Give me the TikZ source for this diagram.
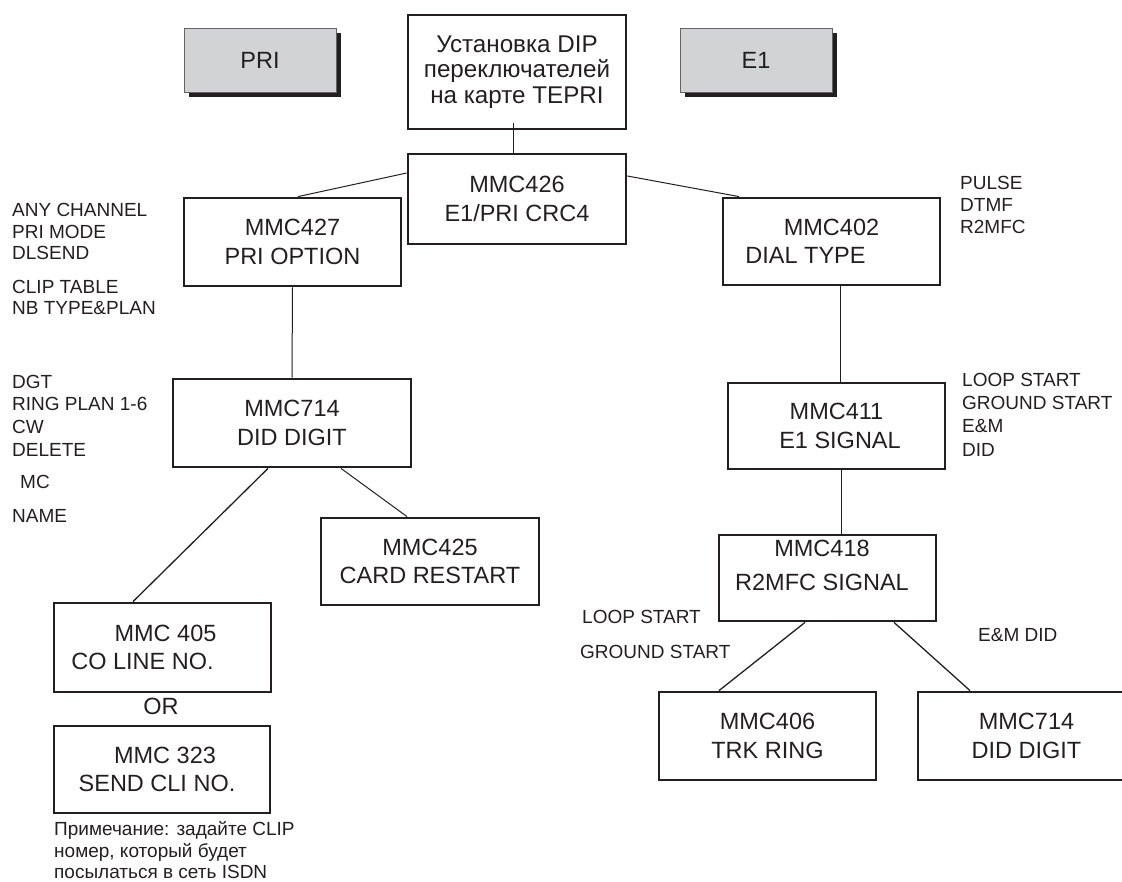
\documentclass[tikz,border=0pt]{standalone}
\usepackage{fontspec}
\setmainfont{Liberation Sans}
\usetikzlibrary{shadows}
\definecolor{ink}{HTML}{231F20}
\definecolor{shadegray}{HTML}{D1D3D4}
\newcommand\myboxfont{\fontsize{23.5}{28.5}\selectfont}
\newcommand\mytopfont{\fontsize{24.2}{25.5}\selectfont}
\newcommand\mylblfont{\fontsize{19}{21.5}\selectfont}
\begin{document}
\begin{tikzpicture}[x=1pt,y=-1pt,
  box/.style={draw=ink, line width=2.8pt, align=center, font=\myboxfont, text=ink, inner sep=0pt},
  tagbox/.style={draw=ink!70, line width=0.8pt, fill=shadegray, font=\myboxfont, text=ink, inner sep=0pt,
    minimum width=152pt, minimum height=64pt,
    drop shadow={opacity=1, fill=ink, shadow xshift=5pt, shadow yshift=-5pt}},
  link/.style={draw=ink, line width=1pt},
  lbl/.style={anchor=west, inner sep=0pt, font=\mylblfont, text=ink, text height=13.6pt, text depth=0pt},
  boxtext/.style={inner sep=0pt, align=center, font=\myboxfont, text=ink}]
\useasboundingbox (0,0) rectangle (1122,881);

% grey tag boxes
\node[tagbox] (pri) at (260,60) {PRI};
\node[tagbox] (e1) at (756,60) {E1};

% main boxes
\node[box, font=\mytopfont, minimum width=218pt, minimum height=114pt] (top) at (517,72)
  {Установка DIP\\переключателей\\на карте TEPRI};
\node[box, minimum width=218pt, minimum height=90pt] (b426) at (517,199) {MMC426\\E1/PRI CRC4};
\node[box, minimum width=217pt, minimum height=88pt] (b427) at (292.5,242) {MMC427\\PRI OPTION};
\node[box, minimum width=217pt, minimum height=87pt] (b402) at (831.5,241.5) {MMC402\\DIAL TYPE\hspace*{52pt}};
\node[box, minimum width=238pt, minimum height=88pt] (b714) at (292,423) {MMC714\\DID DIGIT};
\node[box, minimum width=218pt, minimum height=87pt] (b425) at (430,561.5) {MMC425\\CARD RESTART};
\node[box, minimum width=217pt, minimum height=89pt] (b405) at (162.5,647.5) {\hspace*{6pt}MMC 405\\CO LINE NO.\hspace*{40pt}};
\node[boxtext] (or) at (161,706) {OR};
\node[box, minimum width=216pt, minimum height=87pt] (b323) at (162,769.5) {\hspace*{6pt}MMC 323\\SEND CLI NO.\hspace*{10pt}};
\node[box, minimum width=217pt, minimum height=86pt] (b411) at (836.5,426) {MMC411\\\hspace*{7pt}E1 SIGNAL};
\node[box, minimum width=217pt, minimum height=86pt] (b418) at (827.5,578) {};
\node[boxtext] (t418) at (822,565.5) {MMC418\\[6pt]R2MFC SIGNAL};
\node[box, minimum width=217pt, minimum height=88pt] (b406) at (767.5,736) {MMC406\\TRK RING};
\node[box, minimum width=217pt, minimum height=88pt] (b714r) at (1026.5,736) {MMC714\\DID DIGIT};

% connectors
\draw[link] ([xshift=-4pt,yshift=7pt]top.south) -- ([xshift=-4pt]b426.north);
\draw[link] ([yshift=26pt]b426.west) -- ([xshift=5.5pt]b427.north);
\draw[link] ([yshift=23pt]b426.east) -- ([xshift=-92.5pt]b402.north);
\draw[link] (b427.south) -- (b714.north);
\draw[link, line width=1.3pt] ([xshift=-24pt]b714.south) -- ([xshift=-29.5pt]b405.north);
\draw[link] ([xshift=49pt]b714.south) -- ([xshift=-23pt]b425.north);
\draw[link] ([xshift=8.5pt]b402.south) -- ([xshift=3.5pt]b411.north);
\draw[link] ([xshift=4.5pt]b411.south) -- ([xshift=13.5pt]b418.north);
\draw[link, line width=1.3pt] ([xshift=-22.5pt]b418.south) -- ([xshift=-48.5pt]b406.north);
\draw[link, line width=1.3pt] ([xshift=66.5pt]b418.south) -- ([xshift=-56.5pt]b714r.north);

% left labels
\node[lbl] (l1) at (12,210) {ANY CHANNEL};
\node[lbl] (l2) at (12,232) {PRI MODE};
\node[lbl] (l3) at (12,253) {DLSEND};
\node[lbl] (l4) at (12,287) {CLIP TABLE};
\node[lbl] (l5) at (12,308) {NB TYPE\&PLAN};
\node[lbl] (l6) at (12,382) {DGT};
\node[lbl] (l7) at (12,404) {RING PLAN 1-6};
\node[lbl] (l8) at (12,427) {CW};
\node[lbl] (l9) at (12,450) {DELETE};
\node[lbl] (l10) at (20,482) {MC};
\node[lbl] (l11) at (12,516) {NAME};

% right labels
\node[lbl] (r1) at (960,183) {PULSE};
\node[lbl] (r2) at (960,205) {DTMF};
\node[lbl] (r3) at (960,227) {R2MFC};
\node[lbl] (r4) at (962,380) {LOOP START};
\node[lbl] (r5) at (962,403) {GROUND START};
\node[lbl] (r6) at (962,426) {E\&M};
\node[lbl] (r7) at (962,450) {DID};
\node[lbl] (r8) at (582,617) {LOOP START};
\node[lbl] (r9) at (580,652) {GROUND START};
\node[lbl] (r10) at (978,635) {E\&M DID};

% note
\node[lbl] (n1) at (54,829) {Примечание: задайте CLIP};
\node[lbl] (n2) at (54,851) {номер, который будет};
\node[lbl] (n3) at (54,872) {посылаться в сеть ISDN};
\end{tikzpicture}
\end{document}
